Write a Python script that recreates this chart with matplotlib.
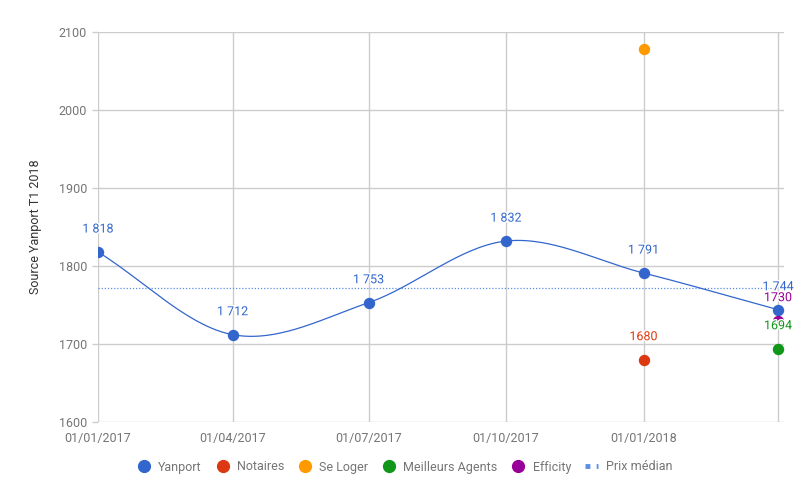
import datetime as dt
import numpy as np
import matplotlib
matplotlib.use("Agg")
import matplotlib.pyplot as plt
import matplotlib.dates as mdates
import matplotlib.patheffects as pe
from matplotlib.lines import Line2D

plt.rcParams['font.family'] = ['Roboto', 'DejaVu Sans']

# ---- data ----
dates = [dt.date(2017, 1, 1), dt.date(2017, 4, 1), dt.date(2017, 7, 1),
         dt.date(2017, 10, 1), dt.date(2018, 1, 1), dt.date(2018, 4, 1)]
yanport = [1818, 1712, 1753, 1832, 1791, 1744]
notaires_date = [dt.date(2018, 1, 1)]
notaires = [1680]
seloger_date = [dt.date(2018, 1, 1)]
seloger = [2078]
meilleurs_date = [dt.date(2018, 4, 1)]
meilleurs = [1694]
efficity_date = [dt.date(2018, 4, 1)]
efficity = [1730]
median_value = 1772
tick_labels = ['01/01/2017', '01/04/2017', '01/07/2017', '01/10/2017', '01/01/2018', '']
y_label = 'Source Yanport T1 2018'

C_Y = '#3366CC'
C_N = '#DC3912'
C_S = '#FF9900'
C_M = '#109618'
C_E = '#990099'
C_MED = '#5B8FE6'
GRID = '#CCCCCC'
TXT = '#757575'
TITLE = '#333333'


def fmt(v):
    return f"{v:,}".replace(",", " ")


def catmull(xs, ys, n=60):
    xs = np.asarray(xs, float)
    ys = np.asarray(ys, float)
    P = np.column_stack([xs, ys])
    m = len(P)
    T = np.zeros_like(P)
    for i in range(m):
        if i == 0:
            T[i] = P[1] - P[0]
        elif i == m - 1:
            T[i] = P[-1] - P[-2]
        else:
            T[i] = (P[i + 1] - P[i - 1]) / 2
    out = []
    for i in range(m - 1):
        t = np.linspace(0, 1, n)[:, None]
        h00 = 2 * t**3 - 3 * t**2 + 1
        h10 = t**3 - 2 * t**2 + t
        h01 = -2 * t**3 + 3 * t**2
        h11 = t**3 - t**2
        seg = h00 * P[i] + h10 * T[i] + h01 * P[i + 1] + h11 * T[i + 1]
        out.append(seg if i == 0 else seg[1:])
    out = np.vstack(out)
    return out[:, 0], out[:, 1]


fig = plt.figure(figsize=(8.1, 5.0), dpi=100)
ax = fig.add_axes([98 / 810, 78 / 500, 686 / 810, 390 / 500])

xnum = mdates.date2num(dates)
cx, cy = catmull(xnum, yanport)
ax.plot(cx, cy, color=C_Y, lw=0.9, zorder=3)
ax.plot(dates, yanport, 'o', color=C_Y, ms=7.2, zorder=4)

ax.axhline(median_value, color=C_MED, lw=0.9, ls=(0, (1, 1.5)), zorder=2)

ax.plot(notaires_date, notaires, 'o', color=C_N, ms=7.2, zorder=4)
ax.plot(seloger_date, seloger, 'o', color=C_S, ms=7.2, zorder=4)
ax.plot(meilleurs_date, meilleurs, 'o', color=C_M, ms=7.2, zorder=4)
ax.plot(efficity_date, efficity, 'o', color=C_E, ms=7.2, zorder=4)

halo = [pe.withStroke(linewidth=2, foreground='white')]
off = 16.5
for d, v in zip(dates, yanport):
    ax.annotate(fmt(v), (d, v), xytext=(0, off), textcoords='offset points',
                ha='center', va='center', color=C_Y, fontsize=9, zorder=5,
                annotation_clip=False, path_effects=halo)
for d, v, c in [(notaires_date[0], notaires[0], C_N),
                (efficity_date[0], efficity[0], C_E),
                (meilleurs_date[0], meilleurs[0], C_M)]:
    ax.annotate(str(v), (d, v), xytext=(0, off), textcoords='offset points',
                ha='center', va='center', color=c, fontsize=9, zorder=6,
                annotation_clip=False, path_effects=halo)

ax.set_ylim(1600, 2100)
ax.set_yticks(range(1600, 2101, 100))
ax.set_xlim(mdates.date2num(dt.date(2017, 1, 1)), mdates.date2num(dt.date(2018, 4, 5)))
ax.set_xticks(xnum)
ax.set_xticklabels(tick_labels)
ax.grid(True, color=GRID, lw=1)
ax.set_axisbelow(True)
for s in ax.spines.values():
    s.set_visible(False)
ax.tick_params(colors=TXT, labelsize=9)
ax.tick_params(axis='y', length=4, color=GRID, width=1, pad=4)
ax.tick_params(axis='x', length=0, pad=7)
ax.set_ylabel(y_label, color=TITLE, fontsize=9, labelpad=12)

handles = [
    Line2D([], [], marker='o', ls='none', color=C_Y, ms=8.5),
    Line2D([], [], marker='o', ls='none', color=C_N, ms=8.5),
    Line2D([], [], marker='o', ls='none', color=C_S, ms=8.5),
    Line2D([], [], marker='o', ls='none', color=C_M, ms=8.5),
    Line2D([], [], marker='o', ls='none', color=C_E, ms=8.5),
    Line2D([], [], color=C_MED, lw=3.5, ls=(0, (1, 1.3))),
]
labels = ['Yanport', 'Notaires', 'Se Loger', 'Meilleurs Agents', 'Efficity', 'Prix médian']
fig.legend(handles, labels, loc='center', bbox_to_anchor=(0.5, 1 - 467 / 500),
           ncol=6, frameon=False, fontsize=9, labelcolor=TXT,
           handlelength=1.0, handletextpad=0.65, columnspacing=1.15)

fig.savefig('out.png', dpi=100)
